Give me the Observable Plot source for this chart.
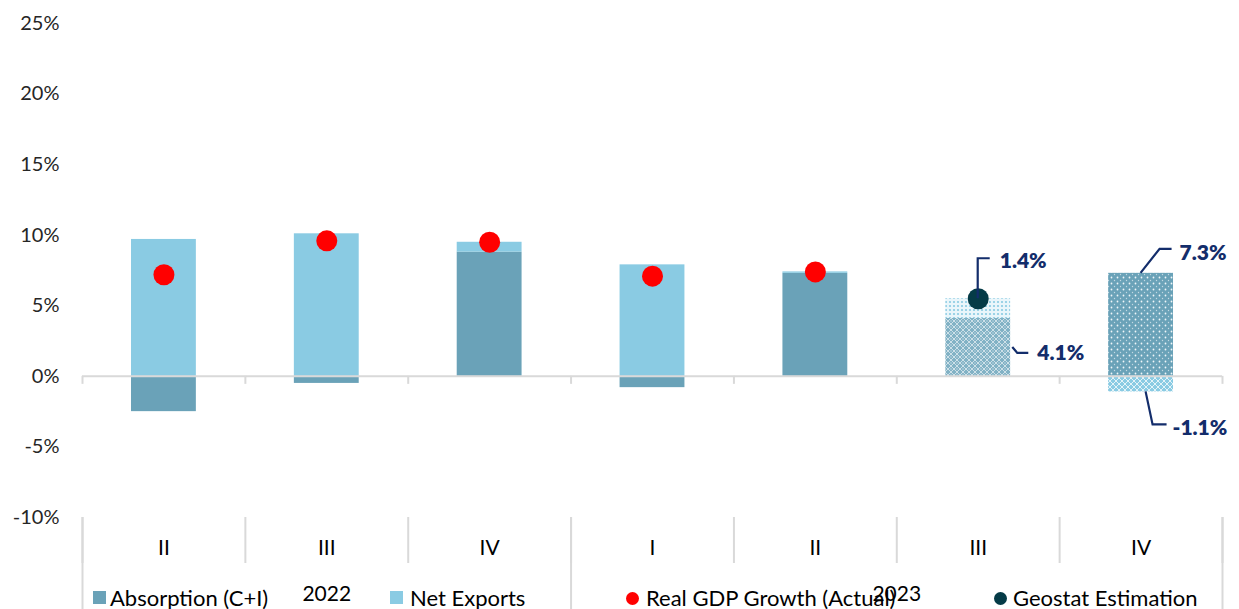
<!DOCTYPE html>
<html><head><meta charset="utf-8">
<script src="https://cdn.jsdelivr.net/npm/d3@7"></script>
<script src="https://cdn.jsdelivr.net/npm/@observablehq/plot@0.6"></script>
<style>
body{margin:0;background:#fff;font-family:Lato,"Open Sans",sans-serif;}
#wrap{position:relative;width:1239px;height:609px;overflow:hidden;}
.lg{position:absolute;top:585px;font-size:22px;color:#000;white-space:nowrap;line-height:26px;}
.sq{position:absolute;top:591px;width:13px;height:13px;}
.ci{position:absolute;top:592px;width:13px;height:13px;border-radius:50%;}
</style></head><body><div id="wrap"></div>
<script>
// ---- data ----
const quarters = ["II", "III", "IV", "I", "II", "III", "IV"];
const years = ["2022", "2022", "2022", "2023", "2023", "2023", "2023"];
const status = ["actual", "actual", "actual", "actual", "actual", "estimate", "estimate"];
const absorption = [-2.5, -0.5, 8.8, -0.8, 7.3, 4.1, 7.3];
const netExports = [9.7, 10.1, 0.7, 7.9, 0.1, 1.4, -1.1];
const gdpActual = [7.2, 9.6, 9.5, 7.1, 7.4, null, null];
const geostatEstimate = [null, null, null, null, null, 5.5, null];
const yTicks = [-10, -5, 0, 5, 10, 15, 20, 25];
const seriesNames = ["Absorption (C+I)", "Net Exports", "Real GDP Growth (Actual)", "Geostat Estimation"];

// ---- styles ----
const C_ABS = "#6AA2B8", C_NE = "#8ACBE3", C_RED = "#FF0000", C_GEO = "#053B47", C_ANN = "#132D6B", C_GRID = "#D9D9D9";
const fills = {
  actual: {abs: C_ABS, ne: C_NE},
  estimate3: {abs: "url(#pAbsLattice)", ne: "url(#pNeDots)"},
  estimate4: {abs: "url(#pAbsDots)", ne: "url(#pNeDiamond)"}
};

// ---- table ----
const rows = [];
quarters.forEach((q, i) => {
  const key = status[i] === "actual" ? "actual" : (q === "III" ? "estimate3" : "estimate4");
  rows.push({i, series: "abs", value: absorption[i], fill: fills[key].abs});
});
quarters.forEach((q, i) => {
  const key = status[i] === "actual" ? "actual" : (q === "III" ? "estimate3" : "estimate4");
  rows.push({i, series: "ne", value: netExports[i], fill: fills[key].ne});
});
const gdpRows = gdpActual.map((v, i) => ({i, v})).filter(d => d.v != null);
const geoRows = geostatEstimate.map((v, i) => ({i, v})).filter(d => d.v != null);
const cats = quarters.map((q, i) => ({i, q}));
const bounds = d3.range(quarters.length + 1);
const yearNames = [...new Set(years)];
const yearGroups = yearNames.map(y => {
  const idx = years.map((v, i) => v === y ? i : -1).filter(i => i >= 0);
  return {y, start: idx[0], end: idx[idx.length - 1] + 1};
});
const yearBounds = [...new Set(yearGroups.flatMap(g => [g.start, g.end]))];
const yMin = yTicks[0], yMax = yTicks[yTicks.length - 1];
const fmt = v => `${v.toFixed(1)}%`;

// annotation renderer (uses Plot's scales)
function annotations(index, scales) {
  const {x, y} = scales;
  const g = d3.create("svg:g").attr("fill", "none").attr("text-anchor", "start");
  const items = [];
  const i3 = 5, i4 = 6;
  const cx3 = x(i3 + 0.5), cx4 = x(i4 + 0.5);
  const half = (x(1) - x(0)) * 0.2;
  {
    const ax = cx3, ay = y(geostatEstimate[i3]);
    items.push({d: `M${ax},${ay}V${ay - 40}H${ax + 12}`, tx: ax + 22, ty: ay - 38, t: fmt(netExports[i3])});
  }
  {
    const ax = cx3 + half + 2, ay = y(absorption[i3] / 2);
    items.push({d: `M${ax},${ay}L${ax + 5},${ay + 6}H${ax + 16}`, tx: ax + 25, ty: ay + 6, t: fmt(absorption[i3])});
  }
  {
    const ax = cx4, ay = y(absorption[i4]);
    items.push({d: `M${ax},${ay}L${ax + 19},${ay - 24}H${ax + 31}`, tx: ax + 39, ty: ay - 20, t: fmt(absorption[i4])});
  }
  {
    const ax = cx4 + 5, ay = y(netExports[i4]);
    items.push({d: `M${ax},${ay}L${ax + 7},${ay + 33}H${ax + 21}`, tx: ax + 27, ty: ay + 36, t: fmt(netExports[i4])});
  }
  for (const it of items) {
    g.append("path").attr("d", it.d).attr("stroke", C_ANN).attr("stroke-width", 2.2);
    g.append("text").attr("x", it.tx).attr("y", it.ty).attr("dy", "0.36em").attr("text-anchor", "start")
      .attr("fill", C_ANN).attr("font-weight", 800).attr("font-size", 21).text(it.t);
  }
  return g.node();
}

const chart = Plot.plot({
  width: 1239, height: 609,
  marginTop: 23, marginBottom: 92, marginLeft: 82, marginRight: 17,
  x: {domain: [0, quarters.length], axis: null},
  y: {domain: [yMin, yMax], axis: null},
  color: {type: "identity"},
  style: {fontFamily: "Lato, 'Open Sans', sans-serif", fontSize: "20px", background: "transparent", overflow: "visible"},
  marks: [
    Plot.rectY(rows, {x1: "i", x2: d => d.i + 1, y: "value", fill: "fill", insetLeft: 49, insetRight: 49}),
    Plot.ruleY([0], {stroke: C_GRID, strokeWidth: 2}),
    Plot.ruleX(bounds, {x: d => d, y1: 0, y2: 0, insetBottom: -8, stroke: C_GRID, strokeWidth: 2}),
    Plot.ruleX(bounds, {x: d => d, y1: yMin, y2: yMin, insetBottom: -46, stroke: C_GRID, strokeWidth: 2}),
    Plot.ruleX(yearBounds, {x: d => d, y1: yMin, y2: yMin, insetBottom: -95, stroke: C_GRID, strokeWidth: 2}),
    Plot.dot(gdpRows, {x: d => d.i + 0.5, y: "v", r: 10.5, fill: C_RED}),
    Plot.dot(geoRows, {x: d => d.i + 0.5, y: "v", r: 10.5, fill: C_GEO}),
    Plot.text(cats, {x: d => d.i + 0.5, y: () => yMin, dy: 31, text: "q", fontSize: 21, fill: "#000"}),
    Plot.text(yearGroups, {x: d => (d.start + d.end) / 2, y: () => yMin, dy: 77, text: "y", fontSize: 21, fill: "#000"}),
    annotations,
    Plot.axisY({ticks: yTicks, tickFormat: d => `${d}%`, tickSize: 0, tickPadding: 23, fontSize: 20, color: "#262626", label: null})
  ]
});

const defs = `<defs>
<pattern id="pAbsLattice" width="6" height="6" patternUnits="userSpaceOnUse">
  <rect width="6" height="6" fill="#82B2C5"/>
  <path d="M0,3L3,0L6,3L3,6Z" fill="none" stroke="#fff" stroke-width="0.8" opacity="0.75"/>
  <rect x="2.5" y="2.5" width="1" height="1" fill="#fff" opacity="0.8"/>
</pattern>
<pattern id="pNeDots" width="4" height="4" patternUnits="userSpaceOnUse">
  <rect width="4" height="4" fill="#EAF6FB"/>
  <circle cx="2" cy="2" r="1.1" fill="${C_NE}"/>
</pattern>
<pattern id="pAbsDots" width="6" height="6" patternUnits="userSpaceOnUse">
  <rect width="6" height="6" fill="${C_ABS}"/>
  <circle cx="1.5" cy="1.5" r="0.9" fill="#fff" opacity="0.9"/>
  <circle cx="4.5" cy="4.5" r="0.7" fill="#fff" opacity="0.6"/>
</pattern>
<pattern id="pNeDiamond" width="6" height="6" patternUnits="userSpaceOnUse">
  <rect width="6" height="6" fill="${C_NE}"/>
  <path d="M0,3L3,0L6,3L3,6Z" fill="none" stroke="#fff" stroke-width="0.9" opacity="0.85"/>
</pattern>
</defs>`;
chart.insertAdjacentHTML("afterbegin", defs);

const wrap = document.getElementById("wrap");
wrap.appendChild(chart);
chart.style.position = "absolute"; chart.style.left = "0"; chart.style.top = "0";

// legend (HTML overlay at the bottom, overlapping the year row as in the original)
const legend = [
  {name: seriesNames[0], kind: "sq", color: C_ABS, sx: 93, tx: 110},
  {name: seriesNames[1], kind: "sq", color: C_NE, sx: 390, tx: 410},
  {name: seriesNames[2], kind: "ci", color: C_RED, sx: 626, tx: 646},
  {name: seriesNames[3], kind: "ci", color: C_GEO, sx: 994, tx: 1013}
];
for (const l of legend) {
  const s = document.createElement("div");
  s.className = l.kind; s.style.left = l.sx + "px"; s.style.background = l.color;
  wrap.appendChild(s);
  const t = document.createElement("div");
  t.className = "lg"; t.style.left = l.tx + "px"; t.textContent = l.name;
  wrap.appendChild(t);
}
</script></body></html>
